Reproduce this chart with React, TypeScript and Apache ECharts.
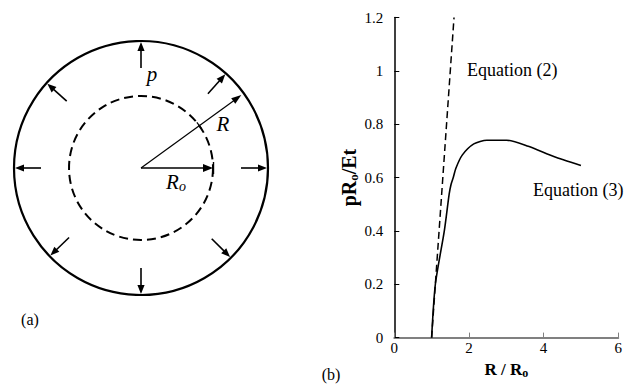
import React, { useEffect, useRef } from "react";
import * as echarts from "echarts";

// ---- Panel (b) data ----
const xTicks = [0, 2, 4, 6];
const yTicks = [0, 0.2, 0.4, 0.6, 0.8, 1, 1.2];
const eq2X = [1.0, 1.2, 1.3, 1.5, 1.6];
const eq2Y = [0, 0.4, 0.6, 1.0, 1.2];
const eq3X = [1.0, 1.1, 1.34, 1.47, 1.52, 1.58, 1.65, 1.82, 2.13, 2.48, 3.01, 3.59, 4.29, 5.0];
const eq3Y = [0, 0.2, 0.4, 0.538, 0.574, 0.6, 0.635, 0.684, 0.726, 0.74, 0.74, 0.717, 0.678, 0.645];
const seriesNames = ["Equation (2)", "Equation (3)"];

// ---- Panel (a) diagram ----
const CX = 141;
const CY = 168;
const OUTER_R = 127;
const INNER_R = 72;
const pressureAngles = [90, 48, 0, 315, 270, 224, 180, 138];
const ARROW_LEN = 26;
const R_ANGLE = 36;

const SERIF = "Liberation Serif";

function arrow(x1: number, y1: number, x2: number, y2: number, lw: number, hl = 9, hw = 3.6) {
  const dx = x2 - x1;
  const dy = y2 - y1;
  const len = Math.sqrt(dx * dx + dy * dy);
  const ux = dx / len;
  const uy = dy / len;
  const bx = x2 - ux * hl;
  const by = y2 - uy * hl;
  const nx = -uy;
  const ny = ux;
  return [
    {
      type: "line",
      shape: { x1, y1, x2: bx + ux * 1, y2: by + uy * 1 },
      style: { stroke: "#000", lineWidth: lw },
    },
    {
      type: "polygon",
      shape: {
        points: [
          [x2, y2],
          [bx + nx * hw, by + ny * hw],
          [bx - nx * hw, by - ny * hw],
        ],
      },
      style: { fill: "#000" },
    },
  ];
}

function label(text: string, x: number, y: number, font: string, align = "center") {
  return {
    type: "text",
    style: {
      text, x, y, font, fill: "#000",
      align, verticalAlign: "middle", textAlign: align, textVerticalAlign: "middle",
    },
  };
}

function buildDiagram(): any[] {
  const els: any[] = [];
  els.push({
    type: "circle",
    shape: { cx: CX, cy: CY, r: OUTER_R },
    style: { fill: "none", stroke: "#000", lineWidth: 2.2 },
  });
  els.push({
    type: "circle",
    shape: { cx: CX, cy: CY, r: INNER_R },
    style: { fill: "none", stroke: "#000", lineWidth: 2, lineDash: [9, 5] },
  });
  for (const a of pressureAngles) {
    const rad = (a * Math.PI) / 180;
    const c = Math.cos(rad);
    const s = -Math.sin(rad);
    const tipR = OUTER_R - 1;
    const tailR = tipR - ARROW_LEN;
    els.push(...arrow(CX + c * tailR, CY + s * tailR, CX + c * tipR, CY + s * tipR, 1.6));
  }
  // R arrow
  const rr = (R_ANGLE * Math.PI) / 180;
  const rc = Math.cos(rr);
  const rs = -Math.sin(rr);
  els.push(...arrow(CX, CY, CX + rc * (OUTER_R - 3), CY + rs * (OUTER_R - 3), 1.2, 10, 3.5));
  // tick where R crosses the dashed circle
  const tx = CX + rc * INNER_R;
  const ty = CY + rs * INNER_R;
  els.push({
    type: "line",
    shape: { x1: tx + rs * 4, y1: ty - rc * 4, x2: tx - rs * 4, y2: ty + rc * 4 },
    style: { stroke: "#000", lineWidth: 1.2 },
  });
  // Ro arrow
  els.push(...arrow(CX, CY, CX + INNER_R, CY, 1.4, 10, 4));
  els.push({
    type: "line",
    shape: { x1: CX + INNER_R + 0.5, y1: CY - 6, x2: CX + INNER_R + 0.5, y2: CY + 6 },
    style: { stroke: "#000", lineWidth: 1.4 },
  });
  // labels
  els.push(label("p", 152, 74, `italic 21px ${SERIF}`));
  els.push(label("R", 223, 124, `italic 21px ${SERIF}`));
  els.push({
    type: "text",
    style: {
      text: "{a|R}{b|o}", x: 176, y: 182, fill: "#000",
      align: "center", verticalAlign: "middle", textAlign: "center", textVerticalAlign: "middle",
      rich: {
        a: { fontSize: 21, fontStyle: "italic", fontFamily: SERIF, lineHeight: 22 },
        b: { fontSize: 14, fontStyle: "italic", fontFamily: SERIF, lineHeight: 8, verticalAlign: "bottom" },
      },
    },
  });
  els.push(label("(a)", 30, 319, `16px ${SERIF}`));
  els.push(label("(b)", 331, 374, `16px ${SERIF}`));
  // series labels
  els.push(label(seriesNames[0], 467, 70, `18px ${SERIF}`, "left"));
  els.push(label(seriesNames[1], 533, 190, `18px ${SERIF}`, "left"));
  return els;
}

export default function App() {
  const ref = useRef<HTMLDivElement>(null);
  useEffect(() => {
    if (!ref.current) return;
    const chart = echarts.init(ref.current, null, { renderer: "svg" });
    const eq2 = eq2X.map((x, i) => [x, eq2Y[i]]);
    const eq3 = eq3X.map((x, i) => [x, eq3Y[i]]);
    chart.setOption({
      animation: false,
      backgroundColor: "#fff",
      textStyle: { fontFamily: SERIF },
      grid: { left: 394.3, right: 3.7, top: 17.5, bottom: 35.3, containLabel: false },
      xAxis: {
        type: "value",
        min: xTicks[0],
        max: xTicks[xTicks.length - 1],
        interval: 2,
        name: "{a|R / R}{b|o}",
        nameLocation: "middle",
        nameGap: 10,
        nameTextStyle: {
          verticalAlign: "top",
          rich: {
            a: { fontSize: 17, fontWeight: "bold", fontFamily: SERIF, color: "#000", lineHeight: 20 },
            b: { fontSize: 12, fontWeight: "bold", fontFamily: SERIF, color: "#000", lineHeight: 8, verticalAlign: "bottom" },
          },
        },
        axisLine: { lineStyle: { color: "#808080", width: 2 } },
        axisTick: { inside: true, length: 5, lineStyle: { color: "#808080", width: 1 } },
        axisLabel: { fontSize: 15, fontFamily: SERIF, color: "#000", margin: 3 },
        splitLine: { show: false },
      },
      yAxis: {
        type: "value",
        min: yTicks[0],
        max: yTicks[yTicks.length - 1],
        interval: 0.2,
        name: "{a|pR}{b|o}{a|/Et}",
        nameLocation: "middle",
        nameRotate: 90,
        nameGap: 34,
        nameTextStyle: {
          rich: {
            a: { fontSize: 20, fontWeight: "bold", fontFamily: SERIF, color: "#000", lineHeight: 22 },
            b: { fontSize: 13, fontWeight: "bold", fontFamily: SERIF, color: "#000", lineHeight: 8, verticalAlign: "bottom" },
          },
        },
        axisLine: { show: true, lineStyle: { color: "#000", width: 1.5 } },
        axisTick: { show: true, inside: true, length: 5, lineStyle: { color: "#000", width: 1 } },
        axisLabel: { fontSize: 15, fontFamily: SERIF, color: "#000", margin: 11 },
        splitLine: { show: false },
      },
      series: [
        {
          name: seriesNames[0],
          type: "line",
          data: eq2,
          symbol: "none",
          lineStyle: { color: "#000", width: 1.5, type: [7, 4] },
          z: 2,
        },
        {
          name: seriesNames[1],
          type: "line",
          data: eq3,
          symbol: "none",
          smooth: 0.25,
          lineStyle: { color: "#000", width: 1.6 },
          z: 3,
        },
      ],
      graphic: buildDiagram(),
    });
    return () => chart.dispose();
  }, []);
  return (
    <div
      ref={ref}
      style={{ position: "absolute", left: 0, top: 0, width: 625, height: 384 }}
    />
  );
}
